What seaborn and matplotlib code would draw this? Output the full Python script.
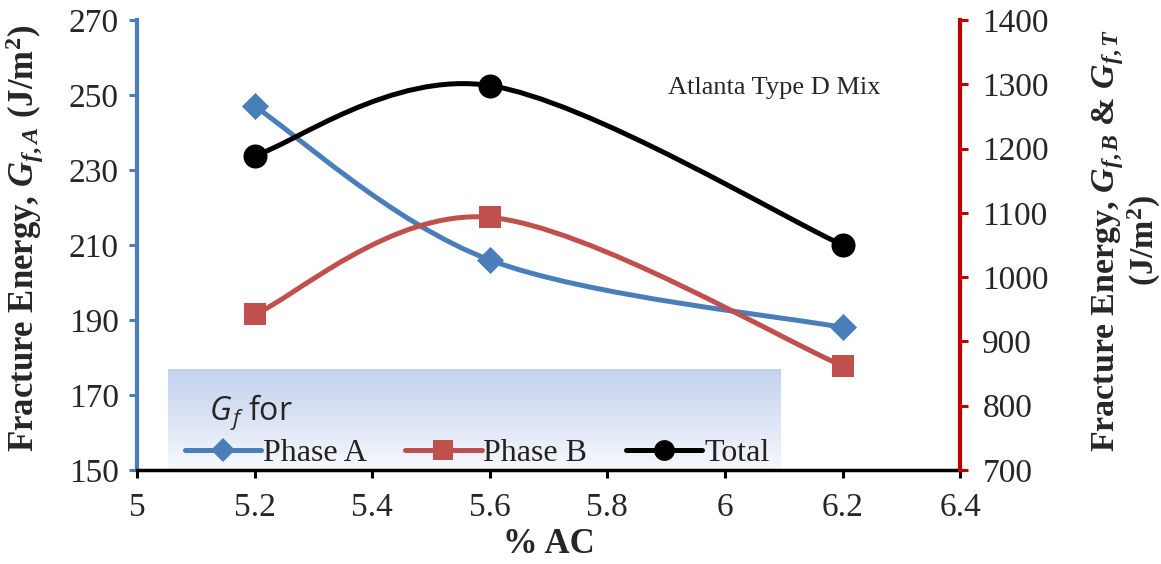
import numpy as np
import matplotlib
matplotlib.use("Agg")
import matplotlib.pyplot as plt
import seaborn as sns
from matplotlib.path import Path
from matplotlib.patches import PathPatch
from matplotlib.lines import Line2D

# data
ac = [5.2, 5.6, 6.2]
phase_a = [247, 206, 188]        # left axis
phase_b = [942, 1093, 862]       # right axis
total = [1189, 1298, 1050]       # right axis
x_ticks = [5, 5.2, 5.4, 5.6, 5.8, 6, 6.2, 6.4]
left_ticks = [150, 170, 190, 210, 230, 250, 270]
right_ticks = [700, 800, 900, 1000, 1100, 1200, 1300, 1400]

BLUE = "#4a7ebb"
RED = "#c0504d"
BLACK = "#000000"

sns.set_theme(style="ticks")
plt.rcParams['font.family'] = ['Liberation Serif', 'DejaVu Serif']
plt.rcParams['mathtext.fontset'] = 'custom'
plt.rcParams['mathtext.rm'] = 'Liberation Serif:bold'
plt.rcParams['mathtext.it'] = 'Liberation Serif:italic:bold'
plt.rcParams['mathtext.bf'] = 'Liberation Serif:bold'
plt.rcParams['mathtext.sf'] = 'Open Sans:italic'


def smooth_path(xs, ys):
    # excel-like smoothed line: cubic bezier segments through the points
    pts = np.column_stack([xs, ys]).astype(float)
    n = len(pts)
    verts = [pts[0]]
    codes = [Path.MOVETO]
    for i in range(n - 1):
        p0 = pts[i - 1] if i > 0 else pts[i]
        p1 = pts[i]
        p2 = pts[i + 1]
        p3 = pts[i + 2] if i + 2 < n else pts[i + 1]
        c1 = p1 + (p2 - p0) / 6.0
        c2 = p2 - (p3 - p1) / 6.0
        verts += [c1, c2, p2]
        codes += [Path.CURVE4] * 3
    return Path(verts, codes)


fig = plt.figure(figsize=(11.61, 5.64), dpi=100)
ax = fig.add_axes([0.118, 0.1667, 0.709, 0.7978])
ax2 = ax.twinx()

# legend background with a soft vertical gradient
bg = fig.add_axes([0.1447, 0.1685, 0.5272, 0.177], zorder=-1)
grad = np.linspace(0, 1, 256).reshape(-1, 1)
top = np.array([0.76, 0.82, 0.93])
bot = np.array([0.965, 0.972, 0.99])
img = top[None, None, :] * (1 - grad[:, :, None]) + bot[None, None, :] * grad[:, :, None]
bg.imshow(img, aspect='auto', extent=[0, 1, 0, 1])
bg.set_axis_off()

ax.set_zorder(1)
ax2.set_zorder(2)
ax.patch.set_visible(False)
ax2.patch.set_visible(False)

lw = 3.6
ax.add_patch(PathPatch(smooth_path(ac, phase_a), fill=False, edgecolor=BLUE, lw=lw, capstyle='round'))
ax2.add_patch(PathPatch(smooth_path(ac, phase_b), fill=False, edgecolor=RED, lw=lw, capstyle='round'))
ax2.add_patch(PathPatch(smooth_path(ac, total), fill=False, edgecolor=BLACK, lw=lw, capstyle='round'))

sns.scatterplot(x=ac, y=phase_a, ax=ax, marker='D', s=190, color=BLUE, linewidth=0, zorder=3)
sns.scatterplot(x=ac, y=phase_b, ax=ax2, marker='s', s=250, color=RED, linewidth=0, zorder=3)
sns.scatterplot(x=ac, y=total, ax=ax2, marker='o', s=300, color=BLACK, linewidth=0, zorder=4)

ax.set_xlim(5, 6.4)
ax.set_ylim(150, 270)
ax2.set_ylim(700, 1400)
ax.set_xticks(x_ticks)
ax.set_xticklabels([f"{v:g}" for v in x_ticks])
ax.set_yticks(left_ticks)
ax2.set_yticks(right_ticks)

tick_fs = 24
ax.tick_params(axis='x', direction='out', length=6, width=2.2, color='black',
               labelsize=tick_fs, pad=10)
ax.tick_params(axis='y', direction='out', length=6, width=2.2, color=BLUE,
               labelsize=tick_fs, pad=7)
ax2.tick_params(axis='y', direction='out', length=6, width=2.2, color='#c00000',
                labelsize=tick_fs, pad=10)

for s in ['top', 'right']:
    ax.spines[s].set_visible(False)
for s in ['top', 'left', 'bottom']:
    ax2.spines[s].set_visible(False)
ax.spines['left'].set_color(BLUE)
ax.spines['left'].set_linewidth(3)
ax.spines['bottom'].set_color('black')
ax.spines['bottom'].set_linewidth(2.5)
ax2.spines['right'].set_color('#c00000')
ax2.spines['right'].set_linewidth(3)

label_fs = 25
ax.set_xlabel("% AC", fontsize=label_fs, fontweight='bold')
ax.xaxis.set_label_coords(0.5, -0.13)
ax.set_ylabel(r"Fracture Energy, $G_{f,A}$ (J/m$^{2}$)", fontsize=label_fs, fontweight='bold')
ax.yaxis.set_label_coords(-0.11, 0.515)
ax2.set_ylabel("Fracture Energy, $G_{f,B}$ & $G_{f,T}$\n(J/m$^{2}$)", fontsize=24.5,
               fontweight='bold', rotation=90, linespacing=1.0)
ax2.yaxis.set_label_coords(1.158, 0.51)

ax.text(0.645, 0.85, "Atlanta Type D Mix", transform=ax.transAxes, fontsize=19,
        va='center', ha='left')

handles = [
    Line2D([], [], color=BLUE, lw=lw, marker='D', ms=12, mew=0),
    Line2D([], [], color=RED, lw=lw, marker='s', ms=14, mew=0),
    Line2D([], [], color=BLACK, lw=lw, marker='o', ms=15, mew=0),
]
leg = ax2.legend(handles, ["Phase A", "Phase B", "Total"], ncol=3, frameon=False,
                 title=r"   $\mathsf{G_f}$ for", title_fontsize=23, fontsize=23,
                 loc='lower left', bbox_to_anchor=(0.05, -0.01), alignment='left',
                 handlelength=2.4, handletextpad=0.05, columnspacing=1.2,
                 borderaxespad=0, borderpad=0.2, labelspacing=0.2)
leg.get_title().set_fontfamily(['Open Sans', 'DejaVu Sans'])
for t in leg.get_texts():
    t.set_color('#222222')

fig.savefig("out.png", dpi=100)
